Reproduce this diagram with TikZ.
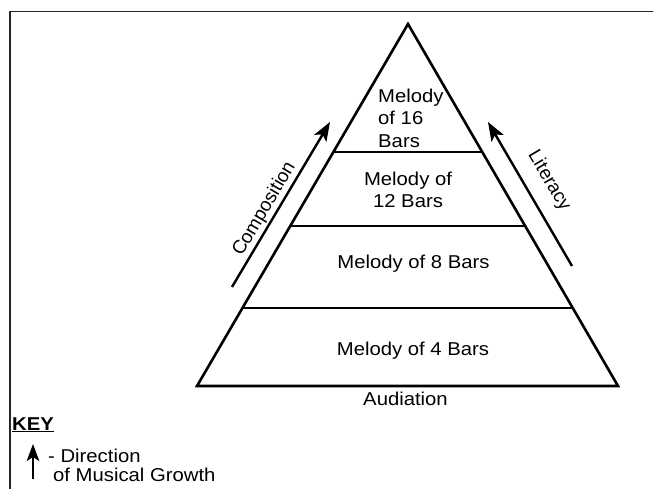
\documentclass[tikz,border=0pt]{standalone}
\usepackage{fontspec}
\setmainfont{Liberation Sans}[FakeStretch=1.09]
\newfontfamily\rotfont{Liberation Sans}
\usetikzlibrary{arrows.meta,calc}
\begin{document}
\begin{tikzpicture}[x=1pt,y=-1pt,
  frameline/.style={line width=1.4pt, draw=black!85},
  pyrline/.style={line width=2.6pt, line join=miter, line cap=round},
  levelline/.style={line width=2.6pt},
  growarrow/.style={line width=2.4pt, -{Stealth[length=19pt,width=14pt,inset=4.5pt]}},
  lab/.style={inner sep=0pt, font=\fontsize{18.6}{22.3}\selectfont},
  rotlab/.style={inner sep=0pt, font=\rotfont\fontsize{19}{22}\selectfont}
]
\useasboundingbox (0,0) rectangle (653,489);
\fill[white] (0,0) rectangle (653,489);
% frame
\coordinate (fl) at (10,489);
\coordinate (ftl) at (10,11.5);
\coordinate (ftr) at (653,11.5);
\draw[frameline] (fl) -- (ftl) -- (ftr);
% pyramid
\coordinate (apex) at (408,24);
\coordinate (bl) at (197,386);
\coordinate (br) at (618,386);
\draw[pyrline] (bl) -- (apex) -- (br) -- cycle;
\coordinate (l16) at ($(apex)!0.3536!(bl)$);
\coordinate (r16) at ($(apex)!0.3536!(br)$);
\coordinate (l12) at ($(apex)!0.558!(bl)$);
\coordinate (r12) at ($(apex)!0.558!(br)$);
\coordinate (l8) at ($(apex)!0.7845!(bl)$);
\coordinate (r8) at ($(apex)!0.7845!(br)$);
\draw[levelline] (l16) -- (r16);
\draw[levelline] (l12) -- (r12);
\draw[levelline] (l8) -- (r8);
% labels in pyramid
\node[lab, anchor=west, align=left] (m16) at (378,120.5) {\strut Melody\\\strut of 16\\\strut Bars};
\node[lab, align=center] (m12) at (408,191.7) {\strut Melody of\\\strut 12 Bars};
\node[lab, anchor=base] (m8) at (413.5,268.3) {Melody of 8 Bars};
\node[lab, anchor=base] (m4) at (413,355.7) {Melody of 4 Bars};
\node[lab, anchor=base] (aud) at (405.5,405.7) {Audiation};
% growth arrows
\coordinate (cs) at (232,287);
\coordinate (ce) at (330,122);
\draw[growarrow] (cs) -- (ce);
\node[rotlab, rotate=59.5] (comp) at (264.5,209) {Composition};
\coordinate (ls) at (572,266);
\coordinate (le) at (488,122);
\draw[growarrow] (ls) -- (le);
\node[rotlab, rotate=-59.5] (lit) at (549,181) {Literacy};
% key
\node[lab, anchor=base west, font=\bfseries\fontsize{18.6}{22.3}\selectfont] (key) at (12,430) {\underline{KEY}};
\coordinate (ks) at (33,479);
\coordinate (ke) at (33,444);
\draw[line width=2.4pt, -{Stealth[length=17pt,width=12.5pt,inset=4pt]}] (ks) -- (ke);
\node[lab, anchor=base west] (dir) at (48,462.3) {- Direction};
\node[lab, anchor=base west] (mus) at (53,481.7) {of Musical Growth};
\end{tikzpicture}
\end{document}
